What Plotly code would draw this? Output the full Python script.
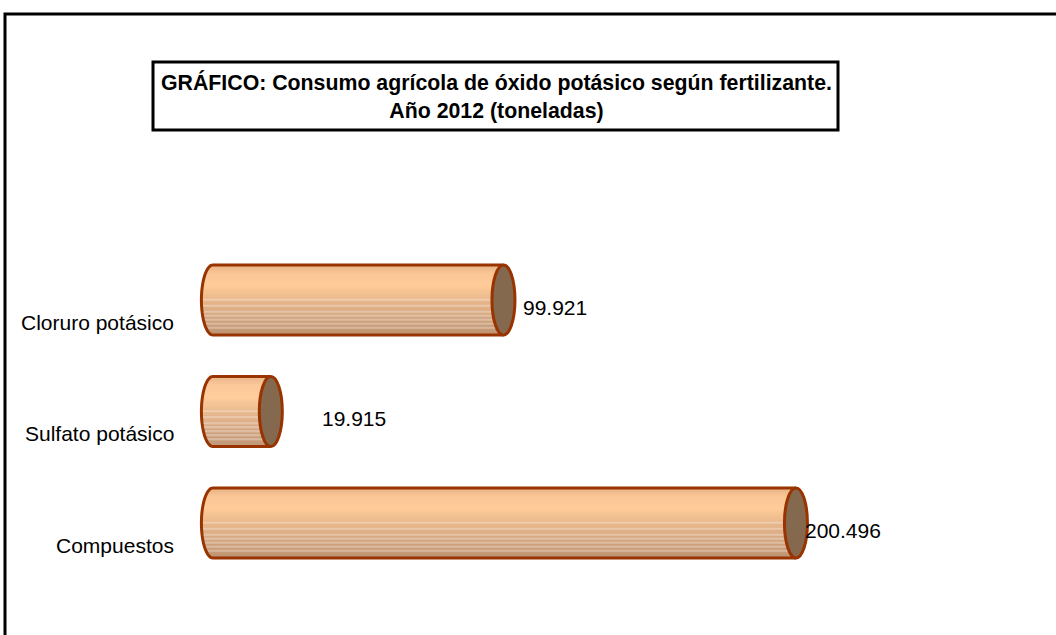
import numpy as np
import plotly.graph_objects as go

# ---------------- data ----------------
categories = ["Compuestos", "Sulfato potásico", "Cloruro potásico"]
values = [200496, 19915, 99921]          # toneladas
title_lines = ["GRÁFICO: Consumo agrícola de óxido potásico según fertilizante.",
               "Año 2012 (toneladas)"]

# ---------------- style / layout constants ----------------
W, H = 1056, 635
FONT = "Liberation Sans, Arial, sans-serif"
PX_PER_T = 2.908 / 1000.0     # pixels per tonne
X0_PX = 212.9                 # pixel of value 0
Y_STEP = 111.5                # pixels between categories
Y0_PX = 523.0                 # pixel centre of first category
label_dx = [7, 49, 18]        # value-label pixel offsets (Excel 3D placement)
OUTLINE = "#993300"
END_FILL = "#85694F"
grad_stops = [(0.0, (0xE6, 0xB0, 0x82)), (0.12, (0xFA, 0xC6, 0x96)),
              (0.30, (0xFF, 0xCC, 0x99)), (0.50, (0xE8, 0xB8, 0x8C)),
              (0.75, (0xD4, 0xA6, 0x82)), (1.0, (0xBE, 0x94, 0x73))]
stripe_rows = [17, 20, 23, 25, 27, 29, 31]   # lighter hairlines in the lower half

x_range = [-X0_PX / PX_PER_T, (W - X0_PX) / PX_PER_T]
y_range = [(Y0_PX - H) / Y_STEP, Y0_PX / Y_STEP]
half_h = 35.0 / Y_STEP
a = 11.5 / PX_PER_T


def grad(t, light=False):
    c = list(grad_stops[-1][1])
    for (t0, c0), (t1, c1) in zip(grad_stops[:-1], grad_stops[1:]):
        if t <= t1:
            f = (t - t0) / (t1 - t0) if t1 > t0 else 0
            c = [c0[k] + (c1[k] - c0[k]) * f for k in range(3)]
            break
    if light:
        c = [ck + (255 - ck) * 0.28 for ck in c]
    return "rgb(%d,%d,%d)" % tuple(round(ck) for ck in c)


def xl(y, yc):
    r = (y - yc) / half_h
    return -a * np.sqrt(max(0.0, 1 - r * r))


positions = list(range(len(categories)))
shapes = []
annotations = []

for i, (cat, v) in enumerate(zip(categories, values)):
    yc = positions[i]
    n = 35
    dh = 2 * half_h / n
    for j in range(n):
        ya = yc + half_h - j * dh
        yb = ya - dh
        col = grad((j + 0.5) / n, light=(j in stripe_rows))
        path = "M %f %f L %f %f L %f %f L %f %f Z" % (xl(ya, yc), ya, v, ya, v, yb, xl(yb, yc), yb)
        shapes.append(dict(type="path", xref="x", yref="y", path=path,
                           fillcolor=col, line=dict(color=col, width=0.5), layer="above"))
    # outline of body
    pts = ["M %f %f" % (v, yc + half_h), "L %f %f" % (0, yc + half_h)]
    for th in np.linspace(np.pi / 2, 3 * np.pi / 2, 40):
        pts.append("L %f %f" % (a * np.cos(th), yc + half_h * np.sin(th)))
    pts.append("L %f %f" % (v, yc - half_h))
    shapes.append(dict(type="path", xref="x", yref="y", path=" ".join(pts),
                       line=dict(color=OUTLINE, width=3), layer="above"))
    # end cap
    shapes.append(dict(type="circle", xref="x", yref="y",
                       x0=v - a, x1=v + a, y0=yc - half_h, y1=yc + half_h,
                       fillcolor=END_FILL, line=dict(color=OUTLINE, width=3), layer="above"))
    # value label
    annotations.append(dict(x=v, y=yc, xref="x", yref="y", text=f"{v:,}".replace(",", "."),
                            showarrow=False, xanchor="left", yanchor="middle",
                            xshift=label_dx[i], yshift=-7,
                            font=dict(family=FONT, size=21, color="black")))
    # category label
    annotations.append(dict(x=176 / W, y=yc, xref="paper", yref="y", text=cat,
                            showarrow=False, xanchor="right", yanchor="middle", yshift=-22,
                            font=dict(family=FONT, size=21, color="black")))

# title box and text
shapes.append(dict(type="rect", xref="paper", yref="paper",
                   x0=153 / W, x1=838 / W, y0=1 - 130 / H, y1=1 - 62 / H,
                   line=dict(color="black", width=3), fillcolor="white", layer="above"))
annotations.append(dict(x=496 / W, y=1 - 96 / H, xref="paper", yref="paper",
                        text="<b>" + "<br>".join(title_lines) + "</b>", showarrow=False,
                        xanchor="center", yanchor="middle", align="center",
                        font=dict(family=FONT, size=21.3, color="black")))
# outer chart-area frame (cut off at right/bottom)
shapes.append(dict(type="rect", xref="paper", yref="paper",
                   x0=5 / W, x1=1.05, y0=-0.05, y1=1 - 14 / H,
                   line=dict(color="black", width=3), layer="above"))

fig = go.Figure()
fig.add_trace(go.Scatter(x=values, y=positions, mode="markers",
                         marker=dict(opacity=0), hoverinfo="skip", showlegend=False))
fig.update_layout(
    width=W, height=H, margin=dict(l=0, r=0, t=0, b=0),
    paper_bgcolor="white", plot_bgcolor="white",
    xaxis=dict(range=x_range, visible=False, fixedrange=True),
    yaxis=dict(range=y_range, visible=False, fixedrange=True),
    shapes=shapes, annotations=annotations, showlegend=False,
)
fig.write_html("out.html", config={"displayModeBar": False},
               post_script="document.body.style.margin='0px';document.body.style.overflow='hidden';")
